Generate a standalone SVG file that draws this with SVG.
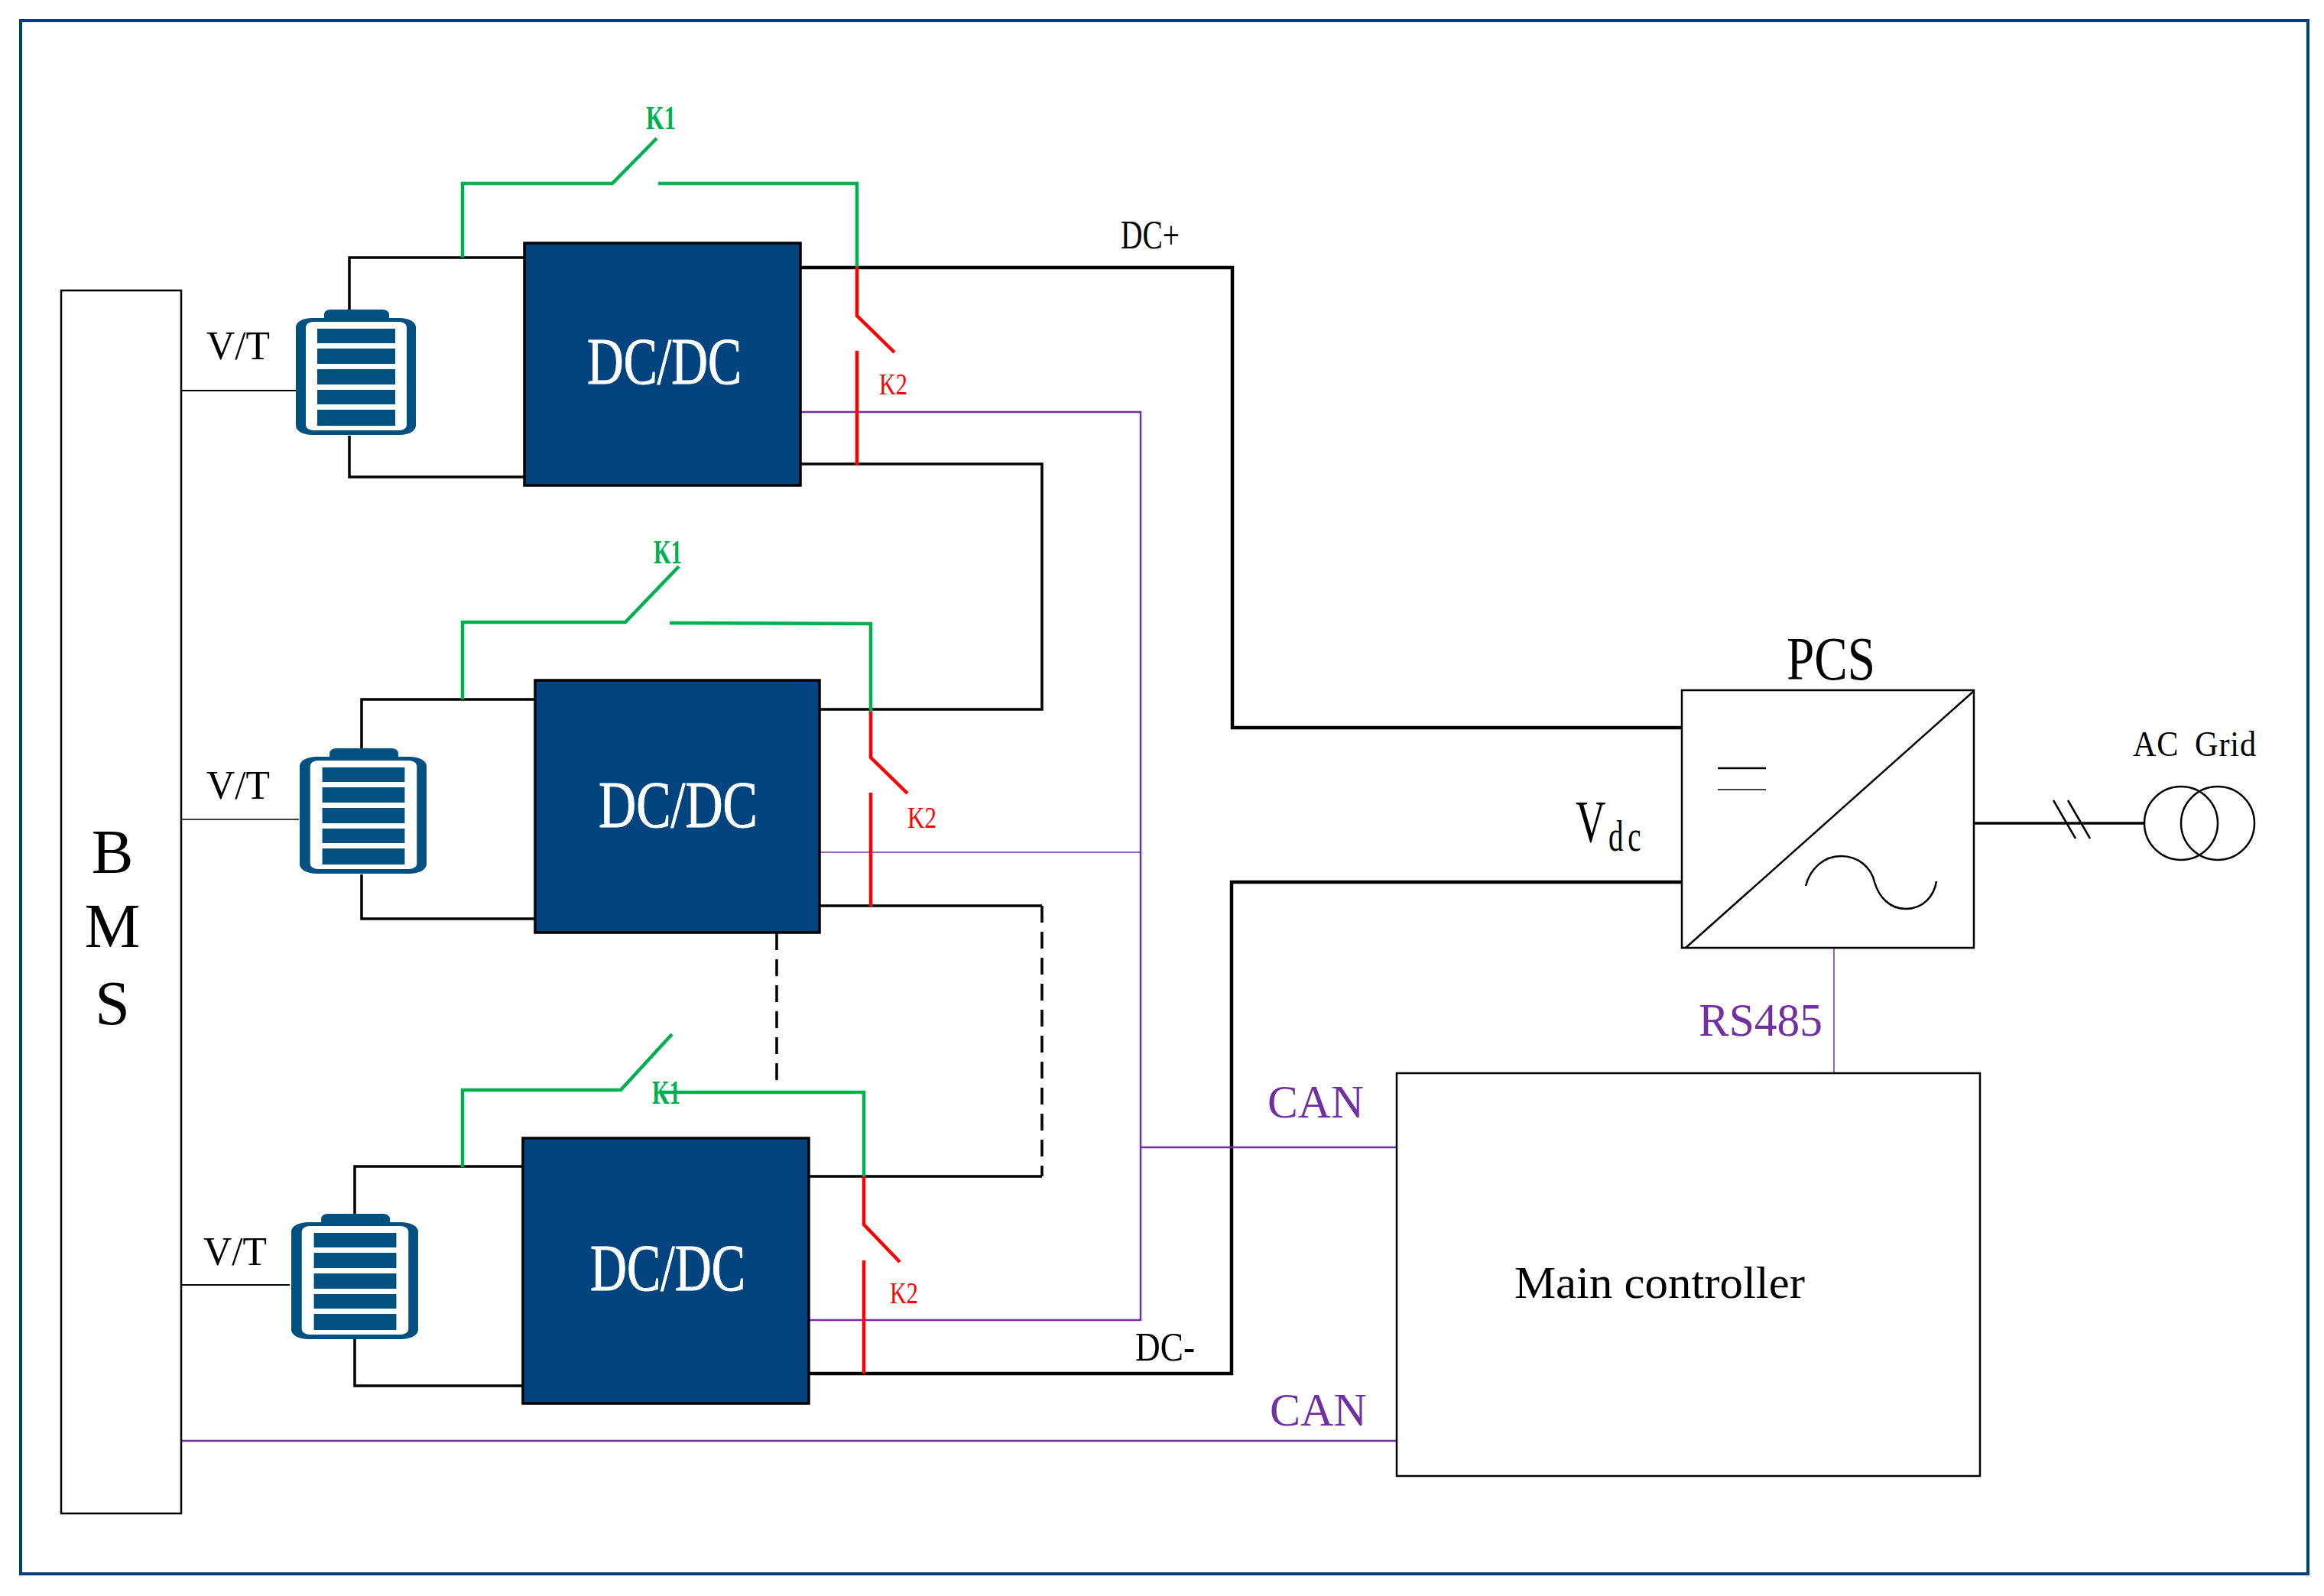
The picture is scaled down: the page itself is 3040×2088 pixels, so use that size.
<svg xmlns="http://www.w3.org/2000/svg" width="3040" height="2088" viewBox="0 0 3040 2088">
<style>
text{font-family:"Liberation Serif","Times New Roman",serif}
.w{fill:none;stroke-linejoin:miter}
.blk{stroke:#000;stroke-width:4.5}
.blkT{stroke:#000;stroke-width:3.5}
.thin{stroke:#000;stroke-width:2.2}
.thinner{stroke:#000;stroke-width:1.5}
.dash{stroke:#000;stroke-width:3.5;stroke-dasharray:22 12}
.gr{stroke:#00b050;stroke-width:4.5}
.rd{stroke:#f00;stroke-width:4.5}
.pu{stroke:#7030a0;stroke-width:2.5}
.puT{stroke:#7030a0;stroke-width:1.5}
.box{fill:#03447f;stroke:#000;stroke-width:3.5}
.open{fill:#fff;stroke:#000;stroke-width:2.5}
.dct{fill:#fff;stroke:#fff;stroke-width:1;font-size:86px}
.tb{fill:#000}
.tp{fill:#7030a0}
.tg{fill:#00b050;font-size:44px;font-weight:bold}
.tr{fill:#f00;font-size:41px}
.bf{fill:#02507f}
</style>
<defs>
<g id="batt">
<rect class="bf" x="37" y="0" width="85" height="20" rx="8" ry="6"/>
<rect class="bf" x="0" y="11" width="157" height="153" rx="21" ry="12"/>
<rect x="13" y="16" width="132" height="142" rx="10" ry="7" fill="#fff"/>
<rect class="bf" x="28" y="25" width="102" height="19"/>
<rect class="bf" x="28" y="51" width="102" height="20"/>
<rect class="bf" x="28" y="78" width="102" height="20"/>
<rect class="bf" x="28" y="105" width="102" height="19"/>
<rect class="bf" x="28" y="131" width="102" height="21"/>
</g>
</defs>
<rect width="3040" height="2088" fill="#fff"/>
<rect id="frame" x="27" y="27" width="2992" height="2032" fill="none" stroke="#003f7f" stroke-width="4"/>

<g id="connectors">
<path class="w blkT" d="M457 405V337H686M457 570V624H686"/>
<path class="w blkT" d="M473 979V915H700M473 1144V1202H700"/>
<path class="w blkT" d="M464 1588V1526H684M464 1752V1813H684"/>
<path class="w thin" d="M237 511H387"/>
<path class="w thinner" d="M237 1072H391"/>
<path class="w thin" d="M237 1681H379"/>
<path class="w blk" d="M1047 350H1612V952H2201"/>
<path class="w blk" d="M1058 1797H1611V1154H2201"/>
<path class="w blkT" d="M1047 607H1363V928H1072"/>
<path class="w blkT" d="M1072 1185H1363"/>
<path class="w dash" d="M1363 1185V1539"/>
<path class="w blkT" d="M1363 1539H1058"/>
<path class="w dash" d="M1016 1221V1425"/>
<path class="w pu" d="M1047 539H1492V1727H1058"/>
<path class="w puT" d="M1072 1115H1492"/>
<path class="w pu" d="M1492 1501H1827"/>
<path class="w pu" d="M237 1885H1827"/>
<path class="w puT" d="M2399 1240V1404"/>
<path class="w gr" d="M605 337V240H801L859 181M861 240H1121V349"/>
<path class="w rd" d="M1121 349V413L1170 461M1121 459V608"/>
<path class="w gr" d="M605 915V814H818L888 741M876 815L1139 816V931"/>
<path class="w rd" d="M1139 931V991L1187 1038M1139 1037V1186"/>
<path class="w gr" d="M605 1527V1426H812L879 1353M866 1429H1130V1539"/>
<path class="w rd" d="M1130 1539V1602L1177 1651M1130 1649V1797"/>
<path class="w blkT" d="M2582 1077H2805"/>
<path class="w" stroke="#000" stroke-width="2.5" d="M2686 1047L2715 1097M2705 1047L2734 1097"/>
</g>

<g id="bms">
<rect class="open" x="80" y="380" width="157" height="1600"/>
<text class="tb" x="147" y="1142" font-size="82" text-anchor="middle">B</text>
<text class="tb" x="147" y="1239" font-size="82" text-anchor="middle">M</text>
<text class="tb" x="147" y="1340" font-size="82" text-anchor="middle">S</text>
</g>

<g id="battery1"><use href="#batt" transform="translate(387 405)"/></g>
<g id="battery2"><use href="#batt" transform="translate(392 979) scale(1.057 1)"/></g>
<g id="battery3"><use href="#batt" transform="translate(381 1588) scale(1.057 1)"/></g>

<g id="dcdc1"><rect class="box" x="686" y="318" width="361" height="317"/><text class="dct" x="768" y="502" textLength="202" lengthAdjust="spacingAndGlyphs">DC/DC</text></g>
<g id="dcdc2"><rect class="box" x="700" y="890" width="372" height="330"/><text class="dct" x="783" y="1082" textLength="208" lengthAdjust="spacingAndGlyphs">DC/DC</text></g>
<g id="dcdc3"><rect class="box" x="684" y="1489" width="374" height="347"/><text class="dct" x="772" y="1688" textLength="203" lengthAdjust="spacingAndGlyphs">DC/DC</text></g>

<g id="pcs">
<rect class="open" x="2200" y="903" width="382" height="337"/>
<path fill="none" stroke="#000" stroke-width="2.5" d="M2205 1240L2582 904"/>
<path fill="none" stroke="#000" stroke-width="2.5" d="M2247 1005H2310"/>
<path fill="none" stroke="#000" stroke-width="1.5" d="M2247 1033H2310"/>
<path fill="none" stroke="#000" stroke-width="2.5" d="M2362 1159C2368 1136 2386 1120 2408 1120C2432 1120 2448 1136 2452 1154C2458 1174 2472 1189 2493 1189C2516 1189 2530 1172 2533 1153"/>
<text class="tb" x="2337" y="889" font-size="80" textLength="116" lengthAdjust="spacingAndGlyphs">PCS</text>
</g>

<g id="grid">
<circle cx="2853" cy="1077" r="48" fill="none" stroke="#000" stroke-width="2.5"/>
<circle cx="2901" cy="1077" r="48" fill="none" stroke="#000" stroke-width="2.5"/>
<text class="tb" x="2790" y="989" font-size="46" word-spacing="10" letter-spacing="1" textLength="162" lengthAdjust="spacingAndGlyphs">AC Grid</text>
</g>

<g id="main">
<rect class="open" x="1827" y="1404" width="763" height="527"/>
<text class="tb" x="1981" y="1698" font-size="60" textLength="380" lengthAdjust="spacingAndGlyphs">Main controller</text>
</g>

<g id="labels">
<text class="tg" x="845" y="169" textLength="39" lengthAdjust="spacingAndGlyphs">K1</text>
<text class="tg" x="855" y="737" textLength="37" lengthAdjust="spacingAndGlyphs">K1</text>
<text class="tg" x="853" y="1444" textLength="37" lengthAdjust="spacingAndGlyphs">K1</text>
<text class="tr" x="1150" y="516" textLength="37" lengthAdjust="spacingAndGlyphs">K2</text>
<text class="tr" x="1187" y="1083" textLength="38" lengthAdjust="spacingAndGlyphs">K2</text>
<text class="tr" x="1164" y="1705" textLength="37" lengthAdjust="spacingAndGlyphs">K2</text>
<text class="tb" x="1466" y="325" font-size="52" textLength="77" lengthAdjust="spacingAndGlyphs">DC+</text>
<text class="tb" x="1485" y="1780" font-size="52" textLength="78" lengthAdjust="spacingAndGlyphs">DC-</text>
<text class="tb" x="270" y="470" font-size="52" textLength="83" lengthAdjust="spacingAndGlyphs">V/T</text>
<text class="tb" x="270" y="1045" font-size="52" textLength="83" lengthAdjust="spacingAndGlyphs">V/T</text>
<text class="tb" x="266" y="1655" font-size="52" textLength="83" lengthAdjust="spacingAndGlyphs">V/T</text>
<text class="tb" transform="translate(2061 1101) scale(0.7 1)" font-size="78">V<tspan dx="5" dy="12" font-size="56" letter-spacing="8">dc</tspan></text>
<text class="tp" x="2222" y="1355" font-size="62" textLength="162" lengthAdjust="spacingAndGlyphs">RS485</text>
<text class="tp" x="1658" y="1462" font-size="62" textLength="126" lengthAdjust="spacingAndGlyphs">CAN</text>
<text class="tp" x="1661" y="1865" font-size="62" textLength="127" lengthAdjust="spacingAndGlyphs">CAN</text>
</g>
</svg>
